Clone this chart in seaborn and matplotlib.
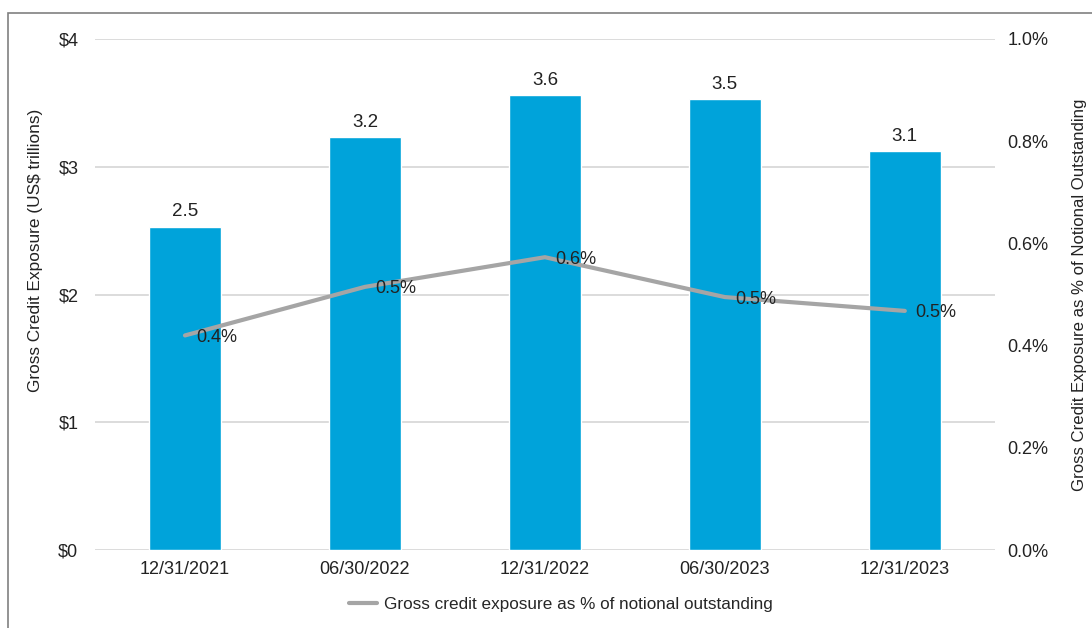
import numpy as np
import pandas as pd
import matplotlib.pyplot as plt
import seaborn as sns
from matplotlib.patches import Rectangle
from matplotlib.lines import Line2D

# Data
dates = ['12/31/2021', '06/30/2022', '12/31/2022', '06/30/2023', '12/31/2023']
exposure = [2.53, 3.23, 3.56, 3.53, 3.12]          # US$ trillions
exposure_labels = ['2.5', '3.2', '3.6', '3.5', '3.1']
pct_notional = [0.42, 0.515, 0.573, 0.495, 0.468]  # percent
pct_labels = ['0.4%', '0.5%', '0.6%', '0.5%', '0.5%']

bar_color = '#00A3DA'
line_color = '#A5A5A5'
grid_color = '#D9D9D9'
text_color = '#222222'

sns.set_style('white')
plt.rcParams['font.family'] = ['Liberation Sans', 'DejaVu Sans']

data = pd.DataFrame({'date': dates, 'exposure': exposure,
                     'pct': pct_notional, 'pos': np.arange(len(dates))})

fig = plt.figure(figsize=(10.92, 6.28), dpi=100)
ax = fig.add_axes([0.087, 0.124, 0.824, 0.814])

# Bars
sns.barplot(data=data, x='date', y='exposure', color=bar_color,
            width=0.4, saturation=1, ax=ax, zorder=2)
for i, lab in enumerate(exposure_labels):
    ax.text(i, exposure[i] + 0.05, lab, ha='center', va='bottom', fontsize=13.5, color=text_color)

ax.set_ylim(0, 4)
ax.set_xlim(-0.5, 4.5)
ax.set_yticks([0, 1, 2, 3, 4])
ax.set_yticklabels(['$0', '$1', '$2', '$3', '$4'])
ax.yaxis.grid(True, color=grid_color, linewidth=1.3, zorder=0)
ax.set_axisbelow(True)
ax.set_xlabel('')
ax.set_ylabel('Gross Credit Exposure (US$ trillions)', fontsize=12.4, color=text_color)
ax.yaxis.set_label_coords(-0.058, 0.587)
ax.tick_params(axis='both', length=0, labelsize=13, colors=text_color)
ax.tick_params(axis='y', pad=12)
ax.tick_params(axis='x', pad=8)
for s in ax.spines.values():
    s.set_visible(False)

# Line on secondary axis
ax2 = ax.twinx()
sns.lineplot(data=data, x='pos', y='pct', color=line_color, linewidth=3,
             ax=ax2, zorder=3)
for i, lab in enumerate(pct_labels):
    ax2.text(i + 0.06, pct_notional[i] - 0.004, lab, ha='left', va='center', fontsize=13, color=text_color)
ax2.set_ylim(0, 1.0)
ax2.set_yticks(np.arange(0, 1.01, 0.2))
ax2.set_yticklabels([f'{v:.1f}%' for v in np.arange(0, 1.01, 0.2)])
ax2.set_ylabel('Gross Credit Exposure as % of Notional Outstanding', fontsize=12.1,
               color=text_color, labelpad=17)
ax2.tick_params(axis='y', length=0, labelsize=13, colors=text_color, pad=9)
ax2.set_xlim(-0.5, 4.5)
for s in ax2.spines.values():
    s.set_visible(False)

# Legend below the chart
handle = Line2D([], [], color=line_color, linewidth=3)
fig.legend([handle], ['Gross credit exposure as % of notional outstanding'],
           loc='center', bbox_to_anchor=(0.514, 0.037), frameon=False,
           prop={'size': 12.3}, handlelength=1.6, handletextpad=0.45)

# Outer frame
fig.add_artist(Rectangle((8 / 1092, -0.1), 1.2, 1 - 13 / 628 + 0.1,
                         transform=fig.transFigure, fill=False,
                         edgecolor='#808080', linewidth=1.2))

fig.savefig('out.png', dpi=100)
